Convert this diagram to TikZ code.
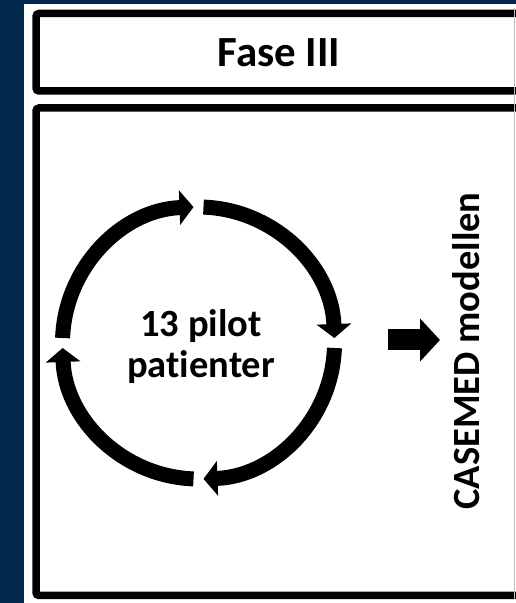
\documentclass[tikz,border=0pt]{standalone}
\usepackage{fontspec}
\setmainfont{Carlito}[Ligatures=NoCommon]
\usetikzlibrary{arrows.meta}
\definecolor{navyblue}{RGB}{3,40,78}
\tikzset{
    frame/.style={line width=7.5pt, rounded corners=3pt},
    cyclearrow/.style={line width=15pt, -{Triangle[length=14pt,width=34pt]}},
    bigtext/.style={font=\bfseries\fontsize{38.5}{41}\selectfont},
}
\begin{document}
\begin{tikzpicture}[x=1pt,y=1pt]
        \fill[navyblue] (0,0) rectangle (516,603);
        \fill[white] (24,0) rectangle (516,599);
        \useasboundingbox (0,0) rectangle (516,603);
        \begin{scope}
            \clip (24,0) rectangle (516,599);
            \draw[frame] (36,512) rectangle (521,589.5);
            \draw[frame] (36,7.5) rectangle (521,495);
        \end{scope}
        \draw[black!25, line width=0.8pt] (514.5,4) -- (514.5,595);
        \node[font=\bfseries\fontsize{43}{50}\selectfont] (fase) at (279,550) {Fase III};
        % cycle of four arcs
        \coordinate (mid) at (198.5,260);
        \foreach \a [evaluate=\a as \s using \a-2.1, evaluate=\a as \e using \a-87.9] in {180,90,0,-90}
            \draw[cyclearrow] (mid) ++(\s:136pt) arc (\s:\e:136pt);
        \node[bigtext, align=center] (pilot) at (201,256) {13 pilot\\patienter};
        \coordinate (outA) at (388,263);
        \coordinate (outB) at (440,263);
        \draw[line width=21pt, -{Triangle[length=20pt,width=42pt]}] (outA) -- (outB);
        \node[bigtext, rotate=90] (model) at (466,252) {CASEMED modellen};
    \end{tikzpicture}
\end{document}
